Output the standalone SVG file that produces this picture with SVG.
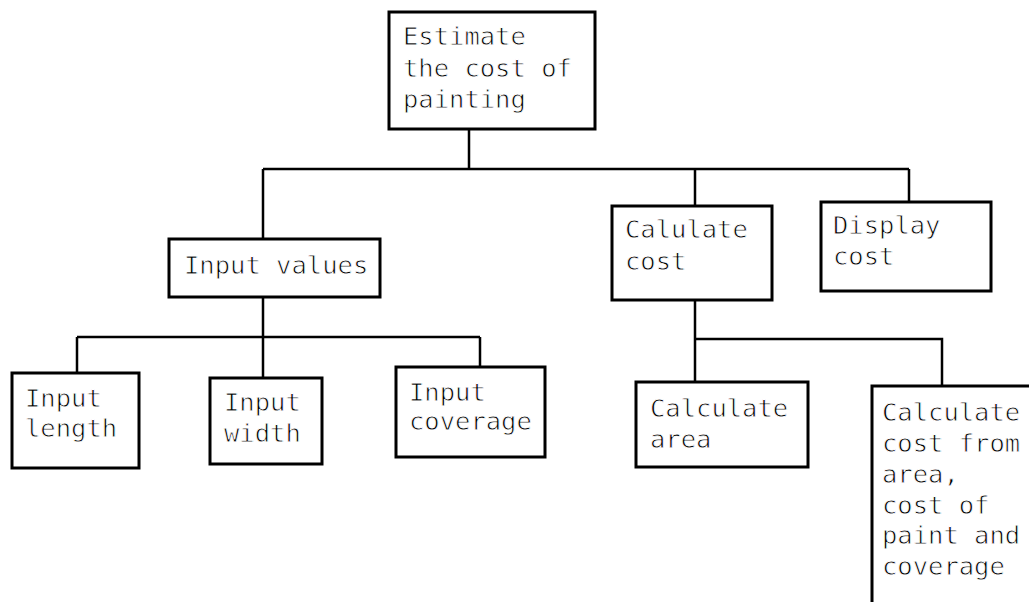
<svg xmlns="http://www.w3.org/2000/svg" width="1029" height="602" viewBox="0 0 1029 602">
<style>
.box{fill:#fff;stroke:#000;stroke-width:3}
.ln{fill:none;stroke:#000;stroke-width:2.5}
text{font-family:"DejaVu Sans Mono","Liberation Mono",monospace;font-size:25.5px;fill:#000;stroke:#fff;stroke-width:0.8px}
</style>
<rect width="1029" height="602" fill="#fff"/>
<g id="connectors">
<path class="ln" d="M469 129V169M263 169H909M263 169V239M695 169V206M909 169V202"/>
<path class="ln" d="M263 297V337M77 337H480M77 337V373M263 337V378M480 337V367"/>
<path class="ln" d="M695 300V339H942V386M695 339V382"/>
</g>
<g id="n-estimate"><rect class="box" x="389" y="12" width="206" height="117"/>
<text x="403" y="45">Estimate</text><text x="403" y="77">the cost of</text><text x="403" y="108">painting</text></g>
<g id="n-input-values"><rect class="box" x="169" y="239" width="211" height="58"/>
<text x="184" y="274">Input values</text></g>
<g id="n-calc-cost"><rect class="box" x="612" y="206" width="160" height="94"/>
<text x="625" y="238">Calulate</text><text x="625" y="270">cost</text></g>
<g id="n-display"><rect class="box" x="821" y="202" width="170" height="89"/>
<text x="833" y="234">Display</text><text x="833" y="265">cost</text></g>
<g id="n-length"><rect class="box" x="12" y="373" width="127" height="95"/>
<text x="25" y="407">Input</text><text x="25" y="437">length</text></g>
<g id="n-width"><rect class="box" x="210" y="378" width="112" height="86"/>
<text x="224" y="411">Input</text><text x="224" y="442">width</text></g>
<g id="n-coverage"><rect class="box" x="396" y="367" width="149" height="90"/>
<text x="409" y="401">Input</text><text x="409" y="430">coverage</text></g>
<g id="n-area"><rect class="box" x="636" y="382" width="172" height="85"/>
<text x="650" y="417">Calculate</text><text x="650" y="448">area</text></g>
<g id="n-cost-from"><rect class="box" x="872" y="386" width="200" height="260"/>
<text x="882" y="421">Calculate</text><text x="882" y="452">cost from</text><text x="882" y="483">area,</text><text x="882" y="514">cost of</text><text x="882" y="544">paint and</text><text x="882" y="575">coverage</text></g>
</svg>
